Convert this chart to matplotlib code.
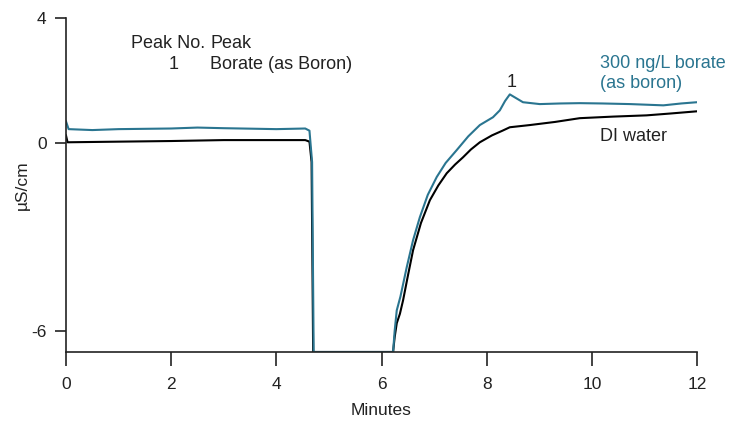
import matplotlib
matplotlib.use("Agg")
import matplotlib.pyplot as plt

plt.rcParams['font.family'] = ['Liberation Sans', 'DejaVu Sans']

# DI water trace (black)
di_t = [0.0, 0.03, 1.0, 2.0, 3.0, 4.0, 4.55, 4.63, 4.67, 4.70, 6.22, 6.25, 6.29, 6.35,
        6.41, 6.5, 6.6, 6.75, 6.92, 7.08, 7.24, 7.4, 7.55, 7.7, 7.87, 8.1, 8.3, 8.44,
        8.82, 9.3, 9.77, 10.4, 11.04, 11.5, 12.0]
di_y = [0.25, 0.03, 0.05, 0.07, 0.1, 0.1, 0.1, 0.05, -0.6, -6.67, -6.67, -6.2, -5.75,
        -5.45, -5.02, -4.25, -3.42, -2.55, -1.82, -1.35, -0.96, -0.68, -0.45, -0.2,
        0.03, 0.25, 0.4, 0.51, 0.58, 0.68, 0.8, 0.85, 0.89, 0.95, 1.02]

# 300 ng/L borate trace (teal)
bor_t = [0.0, 0.05, 0.5, 1.0, 2.0, 2.5, 3.0, 4.0, 4.55, 4.63, 4.68, 4.71, 6.22, 6.25,
         6.29, 6.36, 6.48, 6.6, 6.73, 6.88, 7.05, 7.22, 7.43, 7.65, 7.87, 8.12, 8.25,
         8.35, 8.44, 8.55, 8.69, 9.01, 9.4, 9.77, 10.2, 10.73, 11.36, 11.7, 12.0]
bor_y = [0.7, 0.45, 0.42, 0.45, 0.47, 0.5, 0.48, 0.45, 0.47, 0.4, -0.6, -6.67, -6.67,
         -6.0, -5.34, -4.9, -3.96, -3.1, -2.36, -1.65, -1.08, -0.63, -0.22, 0.22, 0.58,
         0.83, 1.05, 1.35, 1.56, 1.45, 1.31, 1.25, 1.27, 1.28, 1.27, 1.25, 1.21, 1.27,
         1.31]

x_ticks = [0, 2, 4, 6, 8, 10, 12]
y_ticks = [4, 0, -6]

teal = '#2a7590'
txt = '#222222'

fig = plt.figure(figsize=(7.49, 4.25), dpi=100)
ax = fig.add_axes([0.0881, 0.1718, 0.8425, 0.7858])

ax.plot(di_t, di_y, color='black', lw=1.5)
ax.plot(bor_t, bor_y, color=teal, lw=1.5)

ax.set_xlim(0, 12)
ax.set_ylim(-6.67, 4)
ax.set_xticks(x_ticks)
ax.set_yticks(y_ticks)
ax.set_yticklabels(['4', '0', '-6'])

for s in ['top', 'right']:
    ax.spines[s].set_visible(False)
for s in ['left', 'bottom']:
    ax.spines[s].set_linewidth(1.2)
    ax.spines[s].set_color('#222222')

ax.tick_params(axis='x', direction='out', length=10, width=1.2, pad=8,
               labelsize=12.5, colors='#222222')
ax.tick_params(axis='y', direction='out', length=8, width=1.2, pad=6,
               labelsize=12.5, colors='#222222')

ax.set_xlabel('Minutes', fontsize=12.5, color=txt, labelpad=8)
ax.set_ylabel('µS/cm', fontsize=12.5, color=txt, labelpad=1)

ax.text(8.48, 1.95, '1', fontsize=13, color=txt, ha='center', va='center')
ax.text(10.15, 2.22, '300 ng/L borate\n(as boron)', fontsize=13, color=teal,
        ha='left', va='center', linespacing=1.2)
ax.text(10.15, 0.22, 'DI water', fontsize=13, color=txt, ha='left', va='center')

ax.text(2.64, 3.2, 'Peak No.', fontsize=13, color=txt, ha='right', va='center')
ax.text(2.74, 3.2, 'Peak', fontsize=13, color=txt, ha='left', va='center')
ax.text(2.05, 2.52, '1', fontsize=13, color=txt, ha='center', va='center')
ax.text(2.74, 2.52, 'Borate (as Boron)', fontsize=13, color=txt, ha='left', va='center')

fig.savefig('out.png', dpi=100)
